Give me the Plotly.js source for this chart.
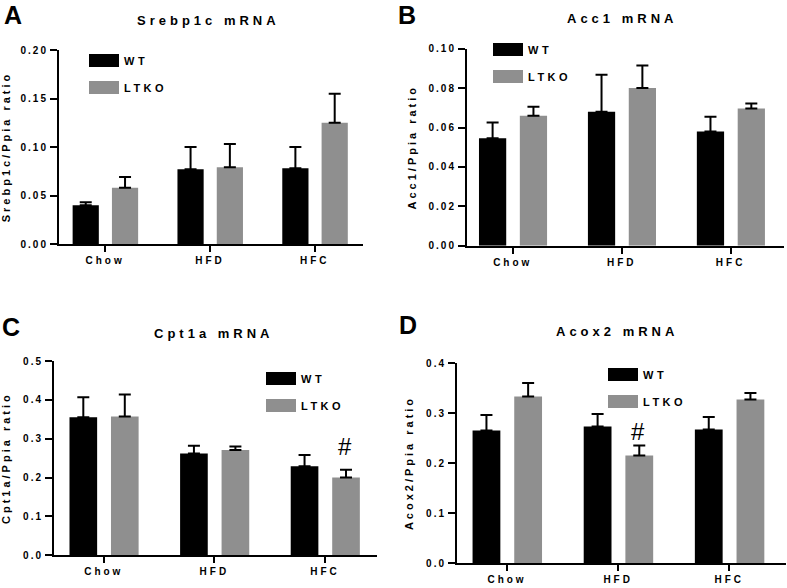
<!DOCTYPE html>
<html>
<head>
<meta charset="utf-8">
<script src="https://cdn.plot.ly/plotly-3.0.1.min.js"></script>
<style>
  html, body { margin: 0; padding: 0; background: #fff; }
  #chart { width: 787px; height: 588px; }
  .xtick text, .x2tick text, .x3tick text, .x4tick text { letter-spacing: 3px; }
  .ytick text, .y2tick text, .y3tick text, .y4tick text { letter-spacing: 2px; }
  .traces text, text.legendtext, g[class*="legend"] text { letter-spacing: 3.5px; }
  .ytitle, .y2title, .y3title, .y4title { letter-spacing: 3px; }
  .annotation-text { letter-spacing: 4px; }
</style>
</head>
<body>
<div id="chart"></div>
<script>
// ---------------- data ----------------
const categories = ['Chow', 'HFD', 'HFC'];
const seriesNames = ['WT', 'LTKO'];
const panelLetters = ['A', 'B', 'C', 'D'];
const panelTitles = ['Srebp1c mRNA', 'Acc1 mRNA', 'Cpt1a mRNA', 'Acox2 mRNA'];
const yTitles = ['Srebp1c/Ppia ratio', 'Acc1/Ppia ratio', 'Cpt1a/Ppia ratio', 'Acox2/Ppia ratio'];

const srebpWT = [0.040, 0.077, 0.078];
const srebpWTErr = [0.003, 0.023, 0.022];
const srebpKO = [0.058, 0.079, 0.125];
const srebpKOErr = [0.011, 0.024, 0.030];

const accWT = [0.0545, 0.068, 0.058];
const accWTErr = [0.008, 0.0188, 0.0075];
const accKO = [0.066, 0.080, 0.0697];
const accKOErr = [0.0045, 0.0115, 0.0025];

const cptWT = [0.355, 0.262, 0.229];
const cptWTErr = [0.052, 0.020, 0.029];
const cptKO = [0.357, 0.271, 0.200];
const cptKOErr = [0.057, 0.009, 0.020];

const acoxWT = [0.265, 0.273, 0.267];
const acoxWTErr = [0.031, 0.025, 0.025];
const acoxKO = [0.333, 0.215, 0.327];
const acoxKOErr = [0.027, 0.020, 0.013];

const yTickVals = [
  [0, 0.05, 0.10, 0.15, 0.20],
  [0, 0.02, 0.04, 0.06, 0.08, 0.10],
  [0, 0.1, 0.2, 0.3, 0.4, 0.5],
  [0, 0.1, 0.2, 0.3, 0.4]
];
// significance marks (#): panel index, category index (LTKO series)
const sigMarks = [{panel: 2, cat: 2}, {panel: 3, cat: 1}];

// ---------------- styling / layout ----------------
const FONT = 'Liberation Sans, Arial, Helvetica, sans-serif';
const W = 787, H = 588;
const colors = ['#000000', '#8f8f8f'];
const barWidth = 0.25;
const barOffsets = [-0.31, 0.065];

const panels = [
  {wt: srebpWT, wtErr: srebpWTErr, ko: srebpKO, koErr: srebpKOErr, yMax: 0.20, fmt: '.2f',
   xPx: [59, 363], yPx: [50, 244], xr: [-0.44, 2.46], letter: [15, 15], title: [209, 21],
   leg: [84, 46], standoff: 10, sigShift: 0},
  {wt: accWT, wtErr: accWTErr, ko: accKO, koErr: accKOErr, yMax: 0.10, fmt: '.2f',
   xPx: [467, 784], yPx: [48.7, 245.7], xr: [-0.42, 2.49], letter: [409, 15], title: [622, 19],
   leg: [488, 35], standoff: 10, sigShift: 0},
  {wt: cptWT, wtErr: cptWTErr, ko: cptKO, koErr: cptKOErr, yMax: 0.5, fmt: '.1f',
   xPx: [54, 377], yPx: [361, 555.3], xr: [-0.45, 2.47], letter: [13, 327], title: [213, 333],
   leg: [261, 364], standoff: 10, sigShift: 8},
  {wt: acoxWT, wtErr: acoxWTErr, ko: acoxKO, koErr: acoxKOErr, yMax: 0.4, fmt: '.1f',
   xPx: [457, 786], yPx: [363, 563], xr: [-0.45, 2.51], letter: [410, 325], title: [617, 331],
   leg: [603, 360], standoff: 10, sigShift: -1}
];

const data = [];
const layout = {
  width: W, height: H,
  margin: {l: 0, r: 0, t: 0, b: 0},
  paper_bgcolor: '#ffffff',
  plot_bgcolor: '#ffffff',
  font: {family: FONT, color: '#000000', size: 10},
  barmode: 'overlay',
  showlegend: true,
  annotations: []
};

panels.forEach((p, i) => {
  const n = i + 1;
  const xa = n === 1 ? 'x' : 'x' + n;
  const ya = n === 1 ? 'y' : 'y' + n;
  const legName = n === 1 ? 'legend' : 'legend' + n;
  const vals = [p.wt, p.ko];
  const errs = [p.wtErr, p.koErr];
  vals.forEach((v, s) => {
    data.push({
      type: 'bar',
      name: seriesNames[s],
      x: categories,
      y: v,
      xaxis: xa, yaxis: ya,
      legend: legName,
      legendgroup: legName + seriesNames[s],
      width: barWidth,
      offset: barOffsets[s],
      marker: {color: colors[s], line: {width: 0}},
      error_y: {
        type: 'data', symmetric: false,
        array: errs[s], arrayminus: errs[s].map(() => 0),
        color: '#000000', thickness: 2, width: 6
      },
      hoverinfo: 'skip'
    });
  });

  const xKey = n === 1 ? 'xaxis' : 'xaxis' + n;
  const yKey = n === 1 ? 'yaxis' : 'yaxis' + n;
  layout[xKey] = {
    domain: [p.xPx[0] / W, p.xPx[1] / W],
    anchor: ya,
    type: 'category',
    categoryorder: 'array', categoryarray: categories,
    range: p.xr,
    showline: true, linecolor: '#000000', linewidth: 2,
    ticks: 'outside', ticklen: 6, tickwidth: 2, tickcolor: '#000000',
    tickfont: {family: FONT, size: 10, weight: 'bold', color: '#000000'},
    showgrid: false, zeroline: false, fixedrange: true
  };
  layout[yKey] = {
    domain: [1 - p.yPx[1] / H, 1 - p.yPx[0] / H],
    anchor: xa,
    range: [0, p.yMax],
    tickvals: yTickVals[i],
    tickformat: p.fmt,
    showline: true, linecolor: '#000000', linewidth: 2,
    ticks: 'outside', ticklen: 7, tickwidth: 2, tickcolor: '#000000',
    tickfont: {family: FONT, size: 10, weight: 'bold', color: '#000000'},
    showgrid: false, zeroline: false, fixedrange: true,
    title: {text: yTitles[i], standoff: p.standoff,
            font: {family: FONT, size: 11, weight: 'bold', color: '#000000'}}
  };
  layout[legName] = {
    x: p.leg[0] / W, y: 1 - p.leg[1] / H,
    xanchor: 'left', yanchor: 'top',
    bgcolor: 'rgba(0,0,0,0)', borderwidth: 0,
    traceorder: 'grouped', tracegroupgap: 8,
    itemwidth: 30,
    font: {family: FONT, size: 11, weight: 'bold', color: '#000000'}
  };

  layout.annotations.push({
    xref: 'paper', yref: 'paper',
    x: p.letter[0] / W, y: 1 - p.letter[1] / H,
    xanchor: 'center', yanchor: 'middle', showarrow: false,
    text: panelLetters[i],
    font: {family: FONT, size: 25, weight: 'bold', color: '#000000'}
  });
  layout.annotations.push({
    xref: 'paper', yref: 'paper',
    x: p.title[0] / W, y: 1 - p.title[1] / H,
    xanchor: 'center', yanchor: 'middle', showarrow: false,
    text: panelTitles[i],
    font: {family: FONT, size: 13, weight: 'bold', color: '#000000'}
  });
});

sigMarks.forEach(m => {
  const p = panels[m.panel];
  const n = m.panel + 1;
  layout.annotations.push({
    xref: 'x' + n, yref: 'y' + n,
    x: m.cat + barOffsets[1] + barWidth / 2,
    y: p.ko[m.cat] + p.koErr[m.cat],
    xanchor: 'center', yanchor: 'bottom', yshift: p.sigShift, showarrow: false,
    text: '#',
    font: {family: FONT, size: 24, color: '#000000'}
  });
});

function styleLegends(gd) {
  // widen the legend swatches to match the reference's rectangular keys
  gd.querySelectorAll('.legendpoints').forEach(lp => {
    lp.querySelectorAll('path').forEach(el => el.setAttribute('d', 'M15,6.5H-15V-6.5H15Z'));
    lp.parentNode.querySelectorAll('text').forEach(t => {
      t.style.letterSpacing = '3.5px';
      t.setAttribute('letter-spacing', '3.5');
    });
  });
}

Plotly.newPlot('chart', data, layout, {staticPlot: true, displayModeBar: false}).then(gd => {
  gd.on('plotly_afterplot', () => styleLegends(gd));
  styleLegends(gd);
  setTimeout(() => styleLegends(gd), 50);
  setTimeout(() => styleLegends(gd), 300);
});
</script>
</body>
</html>
